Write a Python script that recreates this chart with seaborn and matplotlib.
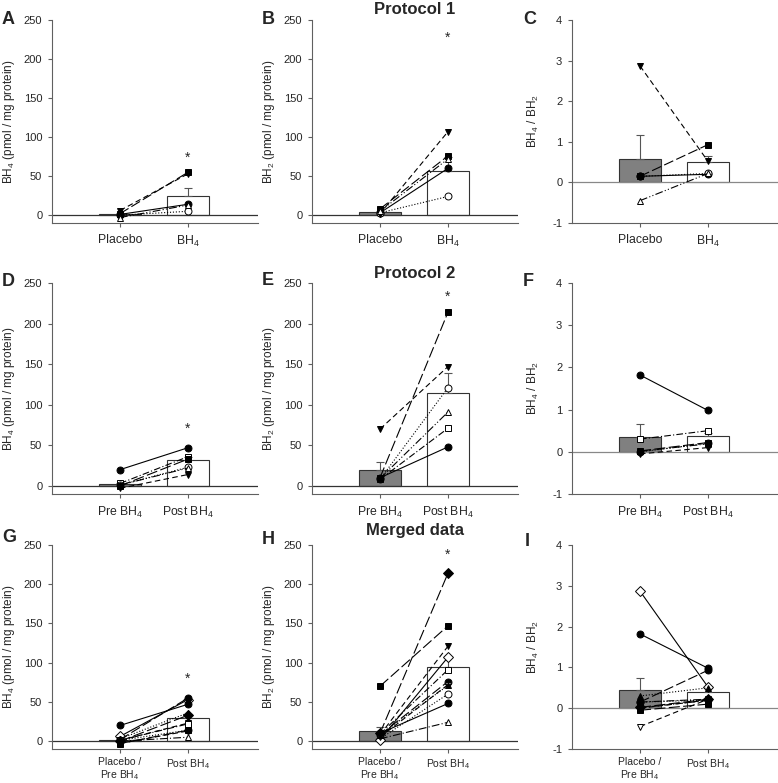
import pandas as pd
import matplotlib
matplotlib.use("Agg")
import matplotlib.pyplot as plt
import seaborn as sns

# ---- values ----
# protocol 1: placebo vs BH4, five subjects
p1_bh4_pre = [1, 0, 6, 2, -3]
p1_bh4_post = [14, 5, 53, 55, 13]
p1_bh2_pre = [3, 3, 2, 8, 5]
p1_bh2_post = [60, 24, 107, 76, 72]
p1_ratio_pre = [0.15, 0.15, 2.87, 0.15, -0.45]
p1_ratio_post = [0.2, 0.22, 0.52, 0.93, 0.22]

# protocol 2: pre vs post BH4, six subjects
p2_bh4_pre = [20, 3, 1, 1, -3, 0]
p2_bh4_post = [47, 36, 23, 22, 14, 33]
p2_bh2_pre = [10, 8, 8, 9, 70, 10]
p2_bh2_post = [48, 71, 121, 91, 147, 214]
p2_ratio_pre = [1.82, 0.3, 0.0, 0.01, -0.05, 0.02]
p2_ratio_post = [0.98, 0.5, 0.2, 0.19, 0.1, 0.22]

# group means and SEM (bars)
p1_bh4_bar, p1_bh4_sem = [1, 24], [0.5, 11]
p1_bh2_bar, p1_bh2_sem = [4.5, 57], [1, 18]
p1_ratio_bar, p1_ratio_sem = [0.58, 0.5], [0.59, 0.15]
p2_bh4_bar, p2_bh4_sem = [2, 32], [2, 4]
p2_bh2_bar, p2_bh2_sem = [19, 115], [10, 24]
p2_ratio_bar, p2_ratio_sem = [0.35, 0.37], [0.3, 0.08]
mg_bh4_bar, mg_bh4_sem = [2, 30], [2, 5]
mg_bh2_bar, mg_bh2_sem = [12.5, 94], [5.5, 13]
mg_ratio_bar, mg_ratio_sem = [0.44, 0.39], [0.31, 0.1]

# significance stars (height) for BH4 and BH2 panels
star_p1 = [77, 231]
star_p2 = [74, 237]
star_mg = [83, 241]

labels_p1 = ["Placebo", "BH$_4$"]
labels_p2 = ["Pre BH$_4$", "Post BH$_4$"]
labels_mg = ["Placebo /\nPre BH$_4$", "Post BH$_4$"]

# ---- styles ----
p1_markers = ["o", "o", "v", "s", "^"]
p1_filled = [True, False, True, True, False]
p1_lines = ["-", ":", (0, (5, 3)), (0, (9, 3)), (0, (7, 2, 1, 2, 1, 2))]

p2_markers = ["o", "s", "o", "^", "v", "s"]
p2_filled = [True, False, False, False, True, True]
p2_lines = ["-", (0, (6, 2, 1, 2)), ":", (0, (7, 2, 1, 2, 1, 2)), (0, (5, 3)), (0, (10, 3))]

mg_markers = ["o", "^", "D", "o", "v", "o", "^", "v", "s", "s", "D"]
mg_filled = [False, False, False, True, False, True, True, True, False, True, True]
mg_lines = [":", (0, (7, 2, 1, 2)), "-", (0, (9, 3)), (0, (5, 3)), "-", ":",
            (0, (5, 3)), (0, (6, 2, 1, 2)), (0, (10, 3)), (0, (10, 3))]

sns.set_style("ticks")
plt.rcParams["font.family"] = ["Liberation Sans", "DejaVu Sans"]
plt.rcParams["mathtext.fontset"] = "custom"
plt.rcParams["mathtext.rm"] = "Liberation Sans"
plt.rcParams["mathtext.it"] = "Liberation Sans:italic"
plt.rcParams["mathtext.bf"] = "Liberation Sans:bold"
plt.rcParams["axes.unicode_minus"] = False

GRAY = "#808080"
AXC = "#606060"

W, H = 778, 783
fig = plt.figure(figsize=(W / 100, H / 100), dpi=100)

col_left = [52, 312, 572]
row_box = [(20, 223), (283, 494), (545, 749)]


def make_ax(r, c):
    top, bot = row_box[r]
    return fig.add_axes([col_left[c] / W, 1 - bot / H, 206 / W, (bot - top) / H])


def draw(ax, pre, post, bar, sem, markers, filled, lines, labels, ratio, star, xfs, xpad):
    df = pd.DataFrame({"cond": labels, "val": bar})
    sns.barplot(data=df, x="cond", y="val", hue="cond", palette=[GRAY, "white"],
                edgecolor="#333333", linewidth=0.8, width=0.62, errorbar=None,
                legend=False, ax=ax, zorder=2)
    ax.errorbar([0, 1], bar, yerr=[[0, 0], sem], fmt="none", ecolor="#555555",
                elinewidth=0.8, capsize=3, capthick=0.8, zorder=3)
    ax.axhline(0, color="#888888" if ratio else "#333333", lw=0.9, zorder=2.5)
    for a, b, m, f, ls in zip(pre, post, markers, filled, lines):
        ax.plot([0, 1], [a, b], color="black", lw=0.8, ls=ls, marker=m,
                markersize=5, markerfacecolor="black" if f else "white",
                markeredgecolor="black", markeredgewidth=0.7, zorder=4)
    if ratio:
        ax.set_ylim(-1, 4)
        ax.set_yticks([-1, 0, 1, 2, 3, 4])
        ax.set_ylabel("BH$_4$ / BH$_2$", fontsize=8.5)
        ax.yaxis.set_label_coords(-0.15, 0.5)
    else:
        ax.set_ylim(-10, 250)
        ax.set_yticks([0, 50, 100, 150, 200, 250])
        ax.text(1, star - 4, "*", ha="center", va="center", fontsize=10)
    ax.set_xlim(-1, 2.03)
    ax.set_xlabel("")
    ax.tick_params(axis="y", labelsize=8, length=3, width=0.8, color=AXC, pad=4)
    ax.tick_params(axis="x", labelsize=xfs, length=3, width=0.8, color=AXC, pad=xpad)
    for t in ax.get_xticklabels():
        t.set_linespacing(1.05)
    sns.despine(ax=ax)
    for s in ["left", "bottom"]:
        ax.spines[s].set_color(AXC)
        ax.spines[s].set_linewidth(0.8)


rows = [
    (p1_bh4_pre, p1_bh4_post, p1_bh4_bar, p1_bh4_sem, p1_bh2_pre, p1_bh2_post, p1_bh2_bar, p1_bh2_sem,
     p1_ratio_pre, p1_ratio_post, p1_ratio_bar, p1_ratio_sem, p1_markers, p1_filled, p1_lines, labels_p1, star_p1, 8.8, 5),
    (p2_bh4_pre, p2_bh4_post, p2_bh4_bar, p2_bh4_sem, p2_bh2_pre, p2_bh2_post, p2_bh2_bar, p2_bh2_sem,
     p2_ratio_pre, p2_ratio_post, p2_ratio_bar, p2_ratio_sem, p2_markers, p2_filled, p2_lines, labels_p2, star_p2, 8.8, 5),
    (p1_bh4_pre + p2_bh4_pre, p1_bh4_post + p2_bh4_post, mg_bh4_bar, mg_bh4_sem,
     p1_bh2_pre + p2_bh2_pre, p1_bh2_post + p2_bh2_post, mg_bh2_bar, mg_bh2_sem,
     p1_ratio_pre + p2_ratio_pre, p1_ratio_post + p2_ratio_post, mg_ratio_bar, mg_ratio_sem,
     mg_markers, mg_filled, mg_lines, labels_mg, star_mg, 7.5, 3),
]

for r, (b4a, b4b, b4m, b4s, b2a, b2b, b2m, b2s, ra, rb, rm, rs, mk, fl, ln, lab, st, xfs, xpad) in enumerate(rows):
    ax = make_ax(r, 0)
    draw(ax, b4a, b4b, b4m, b4s, mk, fl, ln, lab, False, st[0], xfs, xpad)
    ax.set_ylabel("BH$_4$ (pmol / mg protein)", fontsize=8.5)
    ax.yaxis.set_label_coords(-0.17, 0.5)
    ax = make_ax(r, 1)
    draw(ax, b2a, b2b, b2m, b2s, mk, fl, ln, lab, False, st[1], xfs, xpad)
    ax.set_ylabel("BH$_2$ (pmol / mg protein)", fontsize=8.5)
    ax.yaxis.set_label_coords(-0.17, 0.5)
    ax = make_ax(r, 2)
    draw(ax, ra, rb, rm, rs, mk, fl, ln, lab, True, None, xfs, xpad)

letters = [("A", 2, 19), ("B", 262, 19), ("C", 523, 19),
           ("D", 2, 281), ("E", 262, 280), ("F", 523, 281),
           ("G", 2, 537), ("H", 262, 539), ("I", 525, 541)]
for t, x, y in letters:
    fig.text(x / W, 1 - y / H, t, fontsize=13, fontweight="bold", ha="left", va="center")

for t, y in [("Protocol 1", 9), ("Protocol 2", 273), ("Merged data", 530)]:
    fig.text(415 / W, 1 - y / H, t, fontsize=12, fontweight="bold", ha="center", va="center")

fig.savefig("out.png", dpi=100)
